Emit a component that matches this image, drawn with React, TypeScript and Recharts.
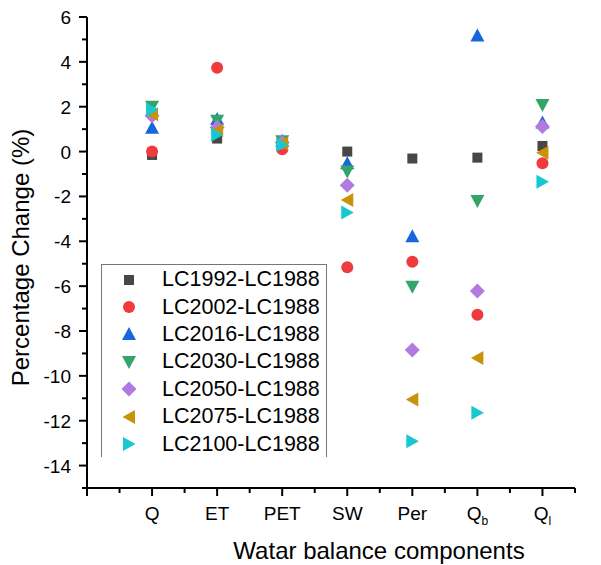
import React from 'react';
import { ScatterChart, Scatter, XAxis, YAxis, Legend } from 'recharts';

const categories = ['Q', 'ET', 'PET', 'SW', 'Per', 'Q', 'Q'];
const categorySubs = ['', '', '', '', '', 'b', 'l'];
const xTicks = [0, 0.5, 1, 1.5, 2, 2.5, 3, 3.5, 4, 4.5, 5, 5.5, 6, 6.5, 7, 7.5];
const yTicks = [-15, -14, -13, -12, -11, -10, -9, -8, -7, -6, -5, -4, -3, -2, -1, 0, 1, 2, 3, 4, 5, 6];

const seriesNames = [
  'LC1992-LC1988',
  'LC2002-LC1988',
  'LC2016-LC1988',
  'LC2030-LC1988',
  'LC2050-LC1988',
  'LC2075-LC1988',
  'LC2100-LC1988',
];
const lc1992 = [-0.15, 0.58, 0.2, 0.0, -0.31, -0.27, 0.25];
const lc2002 = [0.0, 3.74, 0.1, -5.16, -4.91, -7.28, -0.52];
const lc2016 = [1.06, 1.45, 0.48, -0.52, -3.78, 5.17, 1.3];
const lc2030 = [2.0, 1.37, 0.46, -0.89, -6.03, -2.2, 2.08];
const lc2050 = [1.6, 1.07, 0.4, -1.5, -8.85, -6.22, 1.12];
const lc2075 = [1.66, 0.95, 0.36, -2.16, -11.05, -9.2, -0.05];
const lc2100 = [1.86, 0.75, 0.3, -2.72, -12.92, -11.65, -1.34];

const seriesValues = [lc1992, lc2002, lc2016, lc2030, lc2050, lc2075, lc2100];
const colors = ['#474747', '#ef3b3b', '#1866dc', '#33a46a', '#b07ae0', '#c9920b', '#17c8cf'];
const shapes = ['square', 'circle', 'up', 'down', 'diamond', 'left', 'right'];

const FONT = "Arial, 'Liberation Sans', sans-serif";

function Marker({ kind, cx, cy, fill }: { kind: string; cx: number; cy: number; fill: string }) {
  switch (kind) {
    case 'square':
      return <rect x={cx - 5} y={cy - 5} width={10} height={10} fill={fill} />;
    case 'circle':
      return <circle cx={cx} cy={cy} r={6} fill={fill} />;
    case 'up':
      return <polygon points={`${cx},${cy - 7} ${cx - 7},${cy + 6} ${cx + 7},${cy + 6}`} fill={fill} />;
    case 'down':
      return <polygon points={`${cx - 7},${cy - 6} ${cx + 7},${cy - 6} ${cx},${cy + 7}`} fill={fill} />;
    case 'diamond':
      return <polygon points={`${cx},${cy - 7.5} ${cx + 7.5},${cy} ${cx},${cy + 7.5} ${cx - 7.5},${cy}`} fill={fill} />;
    case 'left':
      return <polygon points={`${cx - 6.5},${cy} ${cx + 6},${cy - 7} ${cx + 6},${cy + 7}`} fill={fill} />;
    case 'right':
      return <polygon points={`${cx + 6.5},${cy} ${cx - 6},${cy - 7} ${cx - 6},${cy + 7}`} fill={fill} />;
    default:
      return null;
  }
}

const XTick = (props: any) => {
  const { x, y, payload } = props;
  const v = payload.value as number;
  const isMajor = Number.isInteger(v) && v >= 1;
  const idx = v - 1;
  return (
    <g>
      <line x1={x} y1={y} x2={x} y2={y + (isMajor || v === 0 ? 8 : 5)} stroke="#000" strokeWidth={2} />
      {isMajor && (
        <text x={x} y={y + 32} textAnchor="middle" fontFamily={FONT} fontSize={19} fill="#000">
          {categories[idx]}
          {categorySubs[idx] && (
            <tspan fontSize={12} dy={5}>
              {categorySubs[idx]}
            </tspan>
          )}
        </text>
      )}
    </g>
  );
};

const YTick = (props: any) => {
  const { x, y, payload } = props;
  const v = payload.value as number;
  const isMajor = v % 2 === 0;
  return (
    <g>
      <line x1={x - (isMajor ? 8 : 5)} y1={y} x2={x} y2={y} stroke="#000" strokeWidth={2} />
      {isMajor && (
        <text x={x - 16} y={y + 7} textAnchor="end" fontFamily={FONT} fontSize={19} fill="#000">
          {v}
        </text>
      )}
    </g>
  );
};

const LegendBox = () => (
  <div
    style={{
      width: 226,
      height: 193,
      borderLeft: '1.5px solid #777',
      borderTop: '1.5px solid #777',
      borderRight: '1.5px solid #777',
      boxSizing: 'border-box',
      background: '#fff',
      paddingTop: 1,
    }}
  >
    {seriesNames.map((name, i) => (
      <div key={name} style={{ height: 27.4, display: 'flex', alignItems: 'center' }}>
        <svg width={56} height={20} style={{ display: 'block' }}>
          <Marker kind={shapes[i]} cx={27} cy={10} fill={colors[i]} />
        </svg>
        <span style={{ fontFamily: FONT, fontSize: 21.5, color: '#000', lineHeight: '27px', marginLeft: 4 }}>{name}</span>
      </div>
    ))}
  </div>
);

const seriesData = seriesValues.map((vals) => vals.map((v, i) => ({ x: i + 1, y: v })));

export default function App() {
  return (
    <div style={{ position: 'absolute', left: 0, top: 0, width: 601, height: 565, background: '#fff' }}>
      <ScatterChart width={601} height={565} margin={{ top: 17, right: 26, bottom: 0, left: 0 }}>
        <XAxis
          type="number"
          dataKey="x"
          domain={[0, 7.5]}
          ticks={xTicks}
          interval={0}
          allowDataOverflow
          height={77}
          axisLine={{ stroke: '#000', strokeWidth: 2 }}
          tickLine={false}
          tickSize={0}
          tickMargin={0}
          tick={<XTick />}
          label={{
            value: 'Watar balance components',
            position: 'insideBottom',
            offset: 6,
            dx: 48,
            style: { fontFamily: FONT, fontSize: 24, fill: '#000' },
          }}
        />
        <YAxis
          type="number"
          dataKey="y"
          domain={[-15, 6]}
          ticks={yTicks}
          interval={0}
          allowDataOverflow
          width={87}
          axisLine={{ stroke: '#000', strokeWidth: 2 }}
          tickLine={false}
          tickSize={0}
          tickMargin={0}
          tick={<YTick />}
          label={{
            value: 'Percentage Change (%)',
            angle: -90,
            position: 'insideLeft',
            offset: 20,
            dy: 5,
            style: { fontFamily: FONT, fontSize: 24, fill: '#000', textAnchor: 'middle' },
          }}
        />
        <Legend
          layout="vertical"
          align="center"
          verticalAlign="middle"
          content={<LegendBox />}
          wrapperStyle={{ position: 'absolute', left: 101, top: 264, width: 226, height: 193 }}
        />
        {seriesData.map((data, i) => (
          <Scatter
            key={seriesNames[i]}
            name={seriesNames[i]}
            data={data}
            fill={colors[i]}
            isAnimationActive={false}
            shape={(p: any) => <Marker kind={shapes[i]} cx={p.cx} cy={p.cy} fill={colors[i]} />}
          />
        ))}
      </ScatterChart>
    </div>
  );
}
